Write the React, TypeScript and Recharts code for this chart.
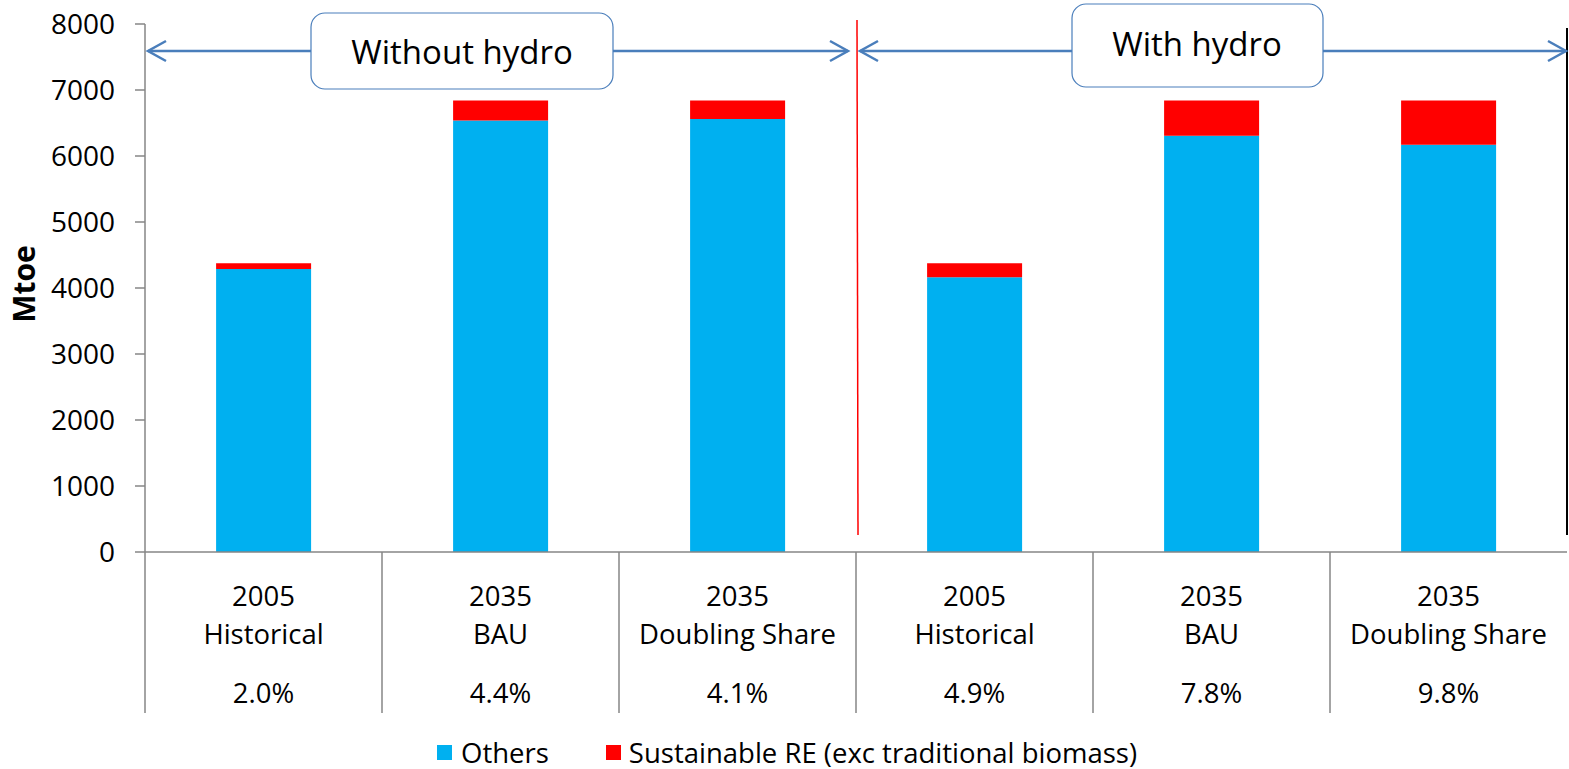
import React from 'react';
import { BarChart, Bar, XAxis, YAxis, Legend } from 'recharts';

const years = ['2005', '2035', '2035', '2005', '2035', '2035'];
const scenarios = ['Historical', 'BAU', 'Doubling Share', 'Historical', 'BAU', 'Doubling Share'];
const shares = ['2.0%', '4.4%', '4.1%', '4.9%', '7.8%', '9.8%'];
const others = [4288, 6539, 6560, 4162, 6306, 6170];
const sustainableRE = [88, 301, 280, 214, 534, 670];
const yTicks = [0, 1000, 2000, 3000, 4000, 5000, 6000, 7000, 8000];

const data = years.map((y, i) => ({
  key: `c${i}`,
  year: y,
  scenario: scenarios[i],
  share: shares[i],
  others: others[i],
  re: sustainableRE[i],
}));

const FONT = '"Open Sans", sans-serif';
const AXIS = '#868686';
const ARROW = '#4A7EBB';
const CAT_W = (1567 - 145) / 6;

const XTick = (props: any) => {
  const { x, y, index } = props;
  const d = data[index];
  if (!d) return null;
  return (
    <g>
      <line x1={x - CAT_W / 2} y1={y - 8} x2={x - CAT_W / 2} y2={y + 153} stroke={AXIS} strokeWidth={1.5} />
      <text x={x} y={y + 35} textAnchor="middle" dominantBaseline="central" fontSize={27.5} fontFamily={FONT} fill="#000">{d.year}</text>
      <text x={x} y={y + 73} textAnchor="middle" dominantBaseline="central" fontSize={27.5} fontFamily={FONT} fill="#000">{d.scenario}</text>
      <text x={x} y={y + 132} textAnchor="middle" dominantBaseline="central" fontSize={27.5} fontFamily={FONT} fill="#000">{d.share}</text>
    </g>
  );
};

const LegendContent = () => (
  <div style={{ display: 'flex', alignItems: 'center', marginLeft: 437, marginTop: 3, fontFamily: FONT, fontSize: 27.5, color: '#000', height: 40 }}>
    <span style={{ width: 15, height: 15, background: '#00B0F0', display: 'inline-block', marginRight: 9 }} />
    <span style={{ marginRight: 57 }}>Others</span>
    <span style={{ width: 15, height: 15, background: '#FF0000', display: 'inline-block', marginRight: 8 }} />
    <span>Sustainable RE (exc traditional biomass)</span>
  </div>
);

const Chevron = ({ x, y, dir }: { x: number; y: number; dir: number }) => (
  <polyline points={`${x + dir * 18},${y - 10} ${x},${y} ${x + dir * 18},${y + 10}`} fill="none" stroke={ARROW} strokeWidth={2.5} />
);

export default function App() {
  return (
    <div style={{ position: 'absolute', left: 0, top: 0, width: 1569, height: 769, background: '#fff' }}>
      <BarChart width={1569} height={769} data={data} margin={{ top: 24, right: 2, left: 0, bottom: 0 }} barCategoryGap="30%">
        <XAxis dataKey="key" height={177} tick={<XTick />} tickLine={false} axisLine={{ stroke: AXIS, strokeWidth: 1.5 }} interval={0} />
        <YAxis
          width={145}
          domain={[0, 8000]}
          ticks={yTicks}
          interval={0}
          tickSize={10}
          tickMargin={20}
          axisLine={{ stroke: AXIS, strokeWidth: 1.5 }}
          tickLine={{ stroke: AXIS, strokeWidth: 1.5 }}
          tick={{ fontSize: 28, fontFamily: FONT, fill: '#000' }}
        />
        <Legend verticalAlign="bottom" height={40} content={<LegendContent />} />
        <Bar dataKey="others" stackId="a" fill="#00B0F0" isAnimationActive={false} />
        <Bar dataKey="re" stackId="a" fill="#FF0000" isAnimationActive={false} />
      </BarChart>
      <svg width={1569} height={769} style={{ position: 'absolute', left: 0, top: 0, pointerEvents: 'none' }}>
        <text transform="rotate(-90, 23, 284)" x={23} y={284} textAnchor="middle" dominantBaseline="central" fontSize={30} fontWeight="bold" fontFamily={FONT} fill="#000">Mtoe</text>
        <line x1={857} y1={20} x2={858} y2={535} stroke="#FF0000" strokeWidth={1.5} />
        <line x1={1567} y1={28} x2={1567} y2={535} stroke="#000" strokeWidth={2} />
        <line x1={148} y1={51} x2={311} y2={51} stroke={ARROW} strokeWidth={2.5} />
        <Chevron x={148} y={51} dir={1} />
        <line x1={613} y1={51} x2={848} y2={51} stroke={ARROW} strokeWidth={2.5} />
        <Chevron x={848} y={51} dir={-1} />
        <line x1={860} y1={51} x2={1072} y2={51} stroke={ARROW} strokeWidth={2.5} />
        <Chevron x={860} y={51} dir={1} />
        <line x1={1323} y1={51} x2={1566} y2={51} stroke={ARROW} strokeWidth={2.5} />
        <Chevron x={1566} y={51} dir={-1} />
        <rect x={311} y={13} width={302} height={76} rx={14} fill="#fff" stroke={ARROW} strokeWidth={1.2} />
        <text x={462} y={51} textAnchor="middle" dominantBaseline="central" fontSize={33} fontFamily={FONT} fill="#000">Without hydro</text>
        <rect x={1072} y={4} width={251} height={83} rx={14} fill="#fff" stroke={ARROW} strokeWidth={1.2} />
        <text x={1197} y={43} textAnchor="middle" dominantBaseline="central" fontSize={33} fontFamily={FONT} fill="#000">With hydro</text>
      </svg>
    </div>
  );
}
